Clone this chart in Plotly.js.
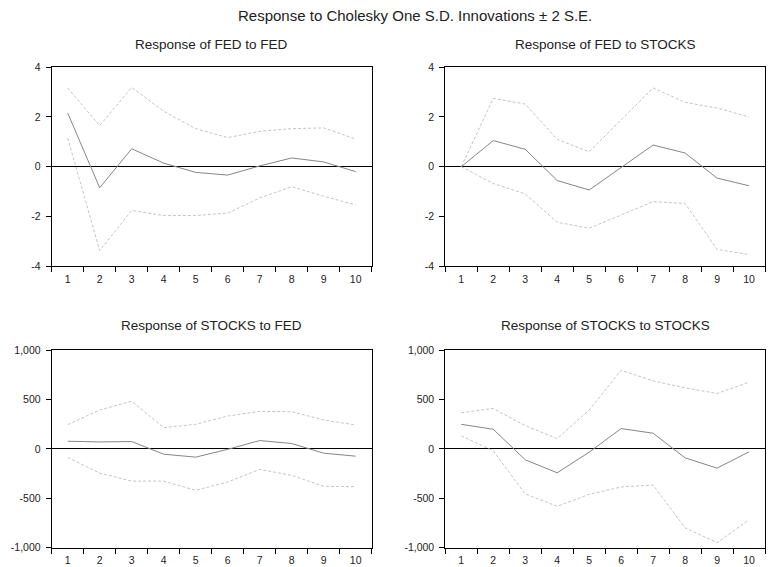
<!DOCTYPE html>
<html>
<head>
<meta charset="utf-8">
<script src="https://cdn.plot.ly/plotly-3.0.1.min.js"></script>
<style>html,body{margin:0;padding:0;background:#fff;}#chart{width:768px;height:567px;}</style>
</head>
<body>
<div id="chart"></div>
<script>
// Periods
const periods = ["1","2","3","4","5","6","7","8","9","10"];

// Response of FED to FED
const fedFed      = [2.16, -0.85, 0.72, 0.14, -0.23, -0.34, 0.03, 0.35, 0.19, -0.20];
const fedFedUp    = [3.17, 1.65, 3.19, 2.23, 1.53, 1.17, 1.42, 1.53, 1.56, 1.11];
const fedFedLo    = [1.15, -3.38, -1.76, -1.97, -1.97, -1.87, -1.26, -0.81, -1.19, -1.54];

// Response of FED to STOCKS
const fedStk      = [0.00, 1.05, 0.70, -0.56, -0.94, -0.05, 0.87, 0.55, -0.46, -0.77];
const fedStkUp    = [0.00, 2.75, 2.52, 1.10, 0.60, 1.89, 3.17, 2.59, 2.36, 2.00];
const fedStkLo    = [0.00, -0.68, -1.10, -2.24, -2.48, -1.96, -1.41, -1.48, -3.33, -3.54];

// Response of STOCKS to FED
const stkFed      = [77, 70, 74, -54, -84, -5, 84, 54, -44, -74];
const stkFedUp    = [245, 393, 482, 215, 248, 332, 379, 376, 292, 242];
const stkFedLo    = [-87, -245, -326, -326, -419, -336, -208, -268, -379, -383];

// Response of STOCKS to STOCKS
const stkStk      = [248, 198, -111, -242, -34, 205, 158, -91, -195, -30];
const stkStkUp    = [366, 409, 235, 104, 393, 795, 688, 617, 560, 674];
const stkStkLo    = [131, -20, -456, -581, -460, -386, -366, -799, -950, -718];

// Tick labels
const fedTickVals = [-4, -2, 0, 2, 4];
const fedTickText = ["-4", "-2", "0", "2", "4"];
const stkTickVals = [-1000, -500, 0, 500, 1000];
const stkTickText = ["-1,000", "-500", "0", "500", "1,000"];

const titles = {
  main: "Response to Cholesky One S.D. Innovations \u00b1 2 S.E.",
  p1: "Response of FED to FED",
  p2: "Response of FED to STOCKS",
  p3: "Response of STOCKS to FED",
  p4: "Response of STOCKS to STOCKS"
};

const solidStyle = {color: "#858585", width: 1};
const dashStyle = {color: "#c4c4c4", width: 1, dash: "3px,2px"};

function trio(mid, up, lo, xa, ya) {
  return [
    {x: periods, y: up, xaxis: xa, yaxis: ya, type: "scatter", mode: "lines", line: dashStyle, hoverinfo: "skip"},
    {x: periods, y: lo, xaxis: xa, yaxis: ya, type: "scatter", mode: "lines", line: dashStyle, hoverinfo: "skip"},
    {x: periods, y: mid, xaxis: xa, yaxis: ya, type: "scatter", mode: "lines", line: solidStyle, hoverinfo: "skip"}
  ];
}

const data = [].concat(
  trio(fedFed, fedFedUp, fedFedLo, "x", "y"),
  trio(fedStk, fedStkUp, fedStkLo, "x2", "y2"),
  trio(stkFed, stkFedUp, stkFedLo, "x3", "y3"),
  trio(stkStk, stkStkUp, stkStkLo, "x4", "y4")
);

const W = 768, H = 567;
const tickFont = {family: "Liberation Sans, Arial, sans-serif", size: 10.5, color: "#222"};

function xax(l, r, anchor) {
  return {
    domain: [l / W, r / W], anchor: anchor, type: "category",
    categoryorder: "array", categoryarray: periods,
    range: [-0.5, 9.5],
    tickson: "boundaries", ticks: "outside", ticklen: 5, tickcolor: "#000", tickwidth: 1,
    ticklabelstandoff: 3,
    showline: true, mirror: true, linecolor: "#000", linewidth: 1,
    showgrid: false, zeroline: false, tickfont: tickFont, fixedrange: true
  };
}
function yax(t, b, anchor, vals, text, rng) {
  return {
    domain: [1 - b / H, 1 - t / H], anchor: anchor, range: rng,
    tickmode: "array", tickvals: vals, ticktext: text,
    ticks: "outside", ticklen: 5, tickcolor: "#000", tickwidth: 1,
    ticklabelstandoff: 3,
    showline: true, mirror: true, linecolor: "#000", linewidth: 1,
    showgrid: false, zeroline: true, zerolinecolor: "#000", zerolinewidth: 1,
    tickfont: tickFont, fixedrange: true
  };
}

const titleFont = {family: "Liberation Sans, Arial, sans-serif", size: 13.5, color: "#222"};
function ann(text, xpx, ypx, size) {
  return {text: text, xref: "paper", yref: "paper", x: xpx / W, y: 1 - ypx / H,
    xanchor: "center", yanchor: "middle", showarrow: false,
    font: Object.assign({}, titleFont, size ? {size: size} : {})};
}

const layout = {
  width: W, height: H,
  margin: {l: 0, r: 0, t: 0, b: 0},
  paper_bgcolor: "#fff", plot_bgcolor: "#fff",
  showlegend: false,
  xaxis: xax(51.7, 371.7, "y"),
  yaxis: yax(67.3, 266, "x", fedTickVals, fedTickText, [-4, 4]),
  xaxis2: xax(445.3, 765, "y2"),
  yaxis2: yax(67.3, 266, "x2", fedTickVals, fedTickText, [-4, 4]),
  xaxis3: xax(51.7, 371.7, "y3"),
  yaxis3: yax(350, 547.7, "x3", stkTickVals, stkTickText, [-1000, 1000]),
  xaxis4: xax(445.3, 765, "y4"),
  yaxis4: yax(350, 547.7, "x4", stkTickVals, stkTickText, [-1000, 1000]),
  annotations: [
    ann(titles.main, 415, 15, 15),
    ann(titles.p1, 211.7, 45),
    ann(titles.p2, 605, 45),
    ann(titles.p3, 211.7, 325),
    ann(titles.p4, 605, 325)
  ]
};

Plotly.newPlot("chart", data, layout, {displayModeBar: false, staticPlot: true});
</script>
</body>
</html>
